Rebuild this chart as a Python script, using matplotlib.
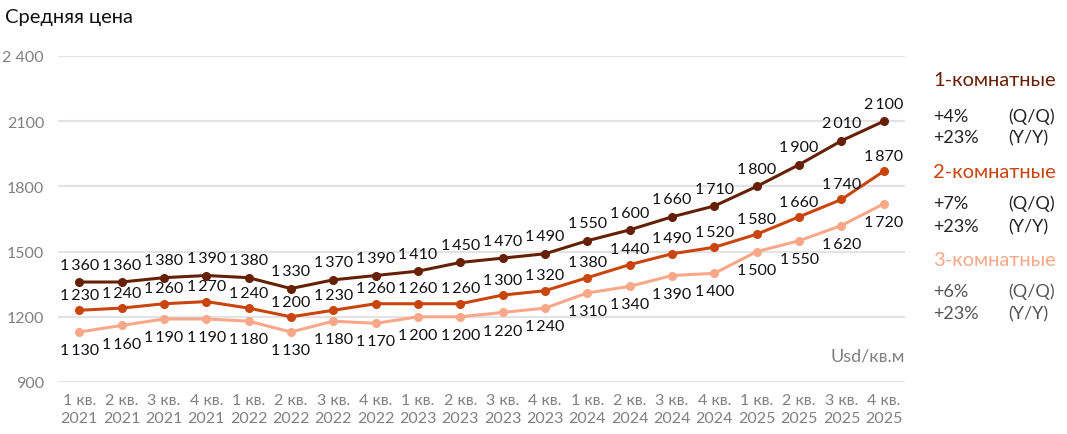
import matplotlib
matplotlib.use("Agg")
import matplotlib.pyplot as plt

plt.rcParams['font.family'] = ['Lato', 'DejaVu Sans']

quarters = ["1 кв.\n2021", "2 кв.\n2021", "3 кв.\n2021", "4 кв.\n2021",
            "1 кв.\n2022", "2 кв.\n2022", "3 кв.\n2022", "4 кв.\n2022",
            "1 кв.\n2023", "2 кв.\n2023", "3 кв.\n2023", "4 кв.\n2023",
            "1 кв.\n2024", "2 кв.\n2024", "3 кв.\n2024", "4 кв.\n2024",
            "1 кв.\n2025", "2 кв.\n2025", "3 кв.\n2025", "4 кв.\n2025"]
one_room = [1360, 1360, 1380, 1390, 1380, 1330, 1370, 1390, 1410, 1450,
            1470, 1490, 1550, 1600, 1660, 1710, 1800, 1900, 2010, 2100]
two_room = [1230, 1240, 1260, 1270, 1240, 1200, 1230, 1260, 1260, 1260,
            1300, 1320, 1380, 1440, 1490, 1520, 1580, 1660, 1740, 1870]
three_room = [1130, 1160, 1190, 1190, 1180, 1130, 1180, 1170, 1200, 1200,
              1220, 1240, 1310, 1340, 1390, 1400, 1500, 1550, 1620, 1720]
y_ticks = [900, 1200, 1500, 1800, 2100, 2400]
y_tick_labels = ["900", "1200", "1500", "1800", "2100", "2 400"]
series_names = ["1-комнатные", "2-комнатные", "3-комнатные"]
qq = ["+4%", "+7%", "+6%"]
yy = ["+23%", "+23%", "+23%"]

colors = ["#652006", "#C9450E", "#F8A888"]
W, H = 1067, 435
fig = plt.figure(figsize=(W / 100, H / 100), dpi=100)
ax = fig.add_axes([58 / W, 1 - 383 / H, (905 - 58) / W, (383 - 57) / H])

x = list(range(len(quarters)))
ax.set_xlim(-0.5, len(quarters) - 0.5)
ax.set_ylim(900, 2400)
ax.set_yticks(y_ticks)
ax.set_yticklabels(y_tick_labels)
ax.set_xticks(x)
ax.set_xticklabels(quarters, linespacing=1.35)
ax.tick_params(axis='both', length=0, colors="#808080", labelsize=11.5)
ax.tick_params(axis='y', pad=10)
ax.tick_params(axis='x', pad=8)
for s in ax.spines.values():
    s.set_visible(False)
ax.grid(axis='y', color="#E3E3E3", linewidth=1.5)
ax.set_axisbelow(True)

def fmt(v):
    return f"{v:,}".replace(",", "\u2009")

offsets = [12.5, 11, -13]
for vals, c, off in zip([one_room, two_room, three_room], colors, offsets):
    ax.plot(x, vals, color=c, linewidth=2.2, marker='o', markersize=5.5, zorder=3)
    for xi, v in zip(x, vals):
        ax.annotate(fmt(v), (xi, v), xytext=(0, off), textcoords='offset points',
                    ha='center', va='center', fontsize=11.5, color="#111111")

ax.text(1.0, 0.08, "Usd/кв.м", transform=ax.transAxes, ha='right', va='center',
        fontsize=13, color="#808080")

fig.text(5 / W, 1 - 18 / H, "Средняя цена", ha='left', va='center',
         fontsize=14.5, color="#111111")

name_y = [80, 173, 260]
qq_y = [117, 204, 292]
yy_y = [138, 227, 314]
txt_cols = ["#222222", "#222222", "#555555"]
for i in range(3):
    fig.text(933 / W, 1 - name_y[i] / H, series_names[i], ha='left', va='center',
             fontsize=14.5, color=colors[i])
    fig.text(933 / W, 1 - qq_y[i] / H, qq[i], ha='left', va='center',
             fontsize=13, color=txt_cols[i])
    fig.text(1008 / W, 1 - qq_y[i] / H, "(Q/Q)", ha='left', va='center',
             fontsize=13, color=txt_cols[i])
    fig.text(933 / W, 1 - yy_y[i] / H, yy[i], ha='left', va='center',
             fontsize=13, color=txt_cols[i])
    fig.text(1008 / W, 1 - yy_y[i] / H, "(Y/Y)", ha='left', va='center',
             fontsize=13, color=txt_cols[i])

fig.savefig("out.png", dpi=100, facecolor="white")
